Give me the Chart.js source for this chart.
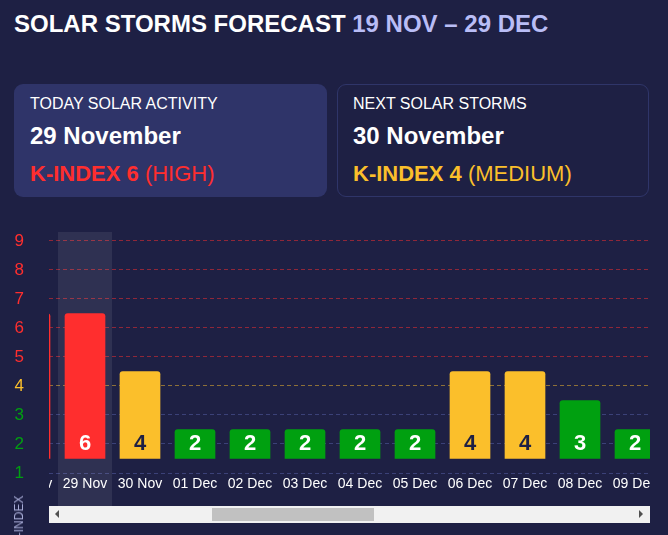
<!DOCTYPE html>
<html>
<head>
<meta charset="utf-8">
<script src="https://cdn.jsdelivr.net/npm/chart.js@4.4.0/dist/chart.umd.min.js"></script>
<style>
html,body{margin:0;padding:0;background:#1e2044;width:668px;height:535px;overflow:hidden;font-family:"Liberation Sans",Arial,sans-serif;}
#title{position:absolute;left:14px;top:12px;font-size:24px;line-height:24px;font-weight:bold;color:#fff;white-space:nowrap;}
#title span{color:#b9bdf6;}
.card{position:absolute;top:84px;height:113px;border-radius:9px;box-sizing:border-box;}
#c1{left:14px;width:313px;background:#2f3469;}
#c2{left:337px;width:312px;border:1px solid #2f3569;}
.t{position:absolute;white-space:nowrap;}
.l1{left:16px;top:12px;font-size:16px;line-height:16px;color:#fff;}
.l2{left:16px;top:40px;font-size:24px;line-height:24px;font-weight:bold;color:#fff;}
.l3{left:16px;top:79px;font-size:22px;line-height:22px;}
#c2 .t{left:15px;}
#c2 .l1{top:11px;} #c2 .l2{top:39px;} #c2 .l3{top:78px;}
.l3 b{font-weight:bold;}
.red{color:#ff2e2e;} .yel{color:#fbbf2b;}
#axisCanvas{position:absolute;left:0;top:232px;}
#viewport{position:absolute;left:49px;top:232px;width:601px;height:274px;overflow:hidden;}
#barCanvas{position:absolute;left:-47px;top:0;}
#ytitle{position:absolute;left:19px;top:520px;font-size:12px;line-height:12px;color:#a7abd6;white-space:nowrap;transform:translate(-50%,-50%) rotate(-90deg);}
#track{position:absolute;left:49px;top:506px;width:601px;height:17px;background:#f1f1f1;}
#thumb{position:absolute;left:212px;top:508px;width:162px;height:13px;background:#c1c1c1;}
#arrL{position:absolute;left:55px;top:510px;width:0;height:0;border-top:4px solid transparent;border-bottom:4px solid transparent;border-right:4px solid #505050;}
#arrR{position:absolute;left:639px;top:510px;width:0;height:0;border-top:4px solid transparent;border-bottom:4px solid transparent;border-left:4px solid #505050;}
</style>
</head>
<body>
<div id="title">SOLAR STORMS FORECAST <span>19 NOV – 29 DEC</span></div>
<div class="card" id="c1">
  <div class="t l1">TODAY SOLAR ACTIVITY</div>
  <div class="t l2">29 November</div>
  <div class="t l3 red"><b>K-INDEX 6</b> (HIGH)</div>
</div>
<div class="card" id="c2">
  <div class="t l1">NEXT SOLAR STORMS</div>
  <div class="t l2">30 November</div>
  <div class="t l3 yel"><b>K-INDEX 4</b> (MEDIUM)</div>
</div>
<canvas id="axisCanvas" width="650" height="274" style="width:650px;height:274px"></canvas>
<div id="viewport"><canvas id="barCanvas" width="661" height="274" style="width:661px;height:274px"></canvas></div>
<div id="ytitle">K-INDEX</div>
<div id="track"></div><div id="thumb"></div><div id="arrL"></div><div id="arrR"></div>
<script>
// ---- data ----
const days = ['28 Nov','29 Nov','30 Nov','01 Dec','02 Dec','03 Dec','04 Dec','05 Dec','06 Dec','07 Dec','08 Dec','09 Dec'];
const kIndex = [6, 6, 4, 2, 2, 2, 2, 2, 4, 4, 3, 2];
const kLevels = [1, 2, 3, 4, 5, 6, 7, 8, 9];
const todayLabel = '29 Nov';

// ---- styles ----
const RED = '#ff2e2e', YEL = '#fbbf2b', GRN = '#00a010';
function levelColor(k){ return k >= 5 ? RED : (k === 4 ? YEL : GRN); }
function gridColor(k){ return k >= 5 ? 'rgba(255,46,46,0.5)' : (k === 4 ? 'rgba(251,191,43,0.5)' : '#3b4178'); }
Chart.defaults.font.family = '"Liberation Sans", Arial, sans-serif';

const Y_MIN = 0.5, Y_MAX = 8.81;

// axis + grid chart
new Chart(document.getElementById('axisCanvas'), {
  type: 'bar',
  data: { labels: [''], datasets: [] },
  options: {
    responsive: false, animation: false, devicePixelRatio: 1,
    layout: { padding: 0 },
    plugins: { legend: { display: false }, tooltip: { enabled: false } },
    scales: {
      x: {
        display: true,
        ticks: { display: false },
        grid: { display: false },
        border: { display: false },
        afterFit: s => { s.height = 33; s.paddingLeft = 0; s.paddingRight = 0; }
      },
      y: {
        min: Y_MIN, max: Y_MAX,
        afterFit: s => { s.width = 49; s.paddingTop = 0; s.paddingBottom = 0; },
        afterBuildTicks: s => { s.ticks = kLevels.map(k => ({ value: k - 0.5 })); },
        ticks: {
          callback: (v, i) => String(kLevels[i]),
          color: c => c.tick ? levelColor(Math.round(c.tick.value + 0.5)) : '#fff',
          font: { size: 17 },
          padding: 25
        },
        grid: {
          color: c => c.tick ? gridColor(Math.round(c.tick.value + 0.5)) : 'transparent',
          drawTicks: false, lineWidth: 1
        },
        border: { display: false, dash: [4, 3] }
      }
    }
  }
});

const highlightPlugin = {
  id: 'todayHighlight',
  beforeDraw(chart) {
    const { ctx, chartArea } = chart;
    const x = chart.scales.x;
    const i = days.indexOf(todayLabel);
    const w = x.width / days.length;
    const cx = x.getPixelForValue(i);
    ctx.save();
    ctx.fillStyle = 'rgba(255,255,255,0.08)';
    ctx.fillRect(Math.round(cx - w / 2), chartArea.top, Math.round(w) - 1, chart.height - chartArea.top);
    ctx.restore();
  }
};

const valueLabelPlugin = {
  id: 'valueLabels',
  afterDatasetsDraw(chart) {
    const { ctx } = chart;
    const meta = chart.getDatasetMeta(0);
    ctx.save();
    ctx.font = 'bold 22px "Liberation Sans", Arial, sans-serif';
    ctx.textAlign = 'center';
    ctx.textBaseline = 'middle';
    meta.data.forEach((bar, i) => {
      ctx.fillStyle = kIndex[i] === 4 ? '#1e2044' : '#ffffff';
      ctx.fillText(String(kIndex[i]), bar.x, bar.base - 15);
    });
    ctx.restore();
  }
};

new Chart(document.getElementById('barCanvas'), {
  type: 'bar',
  data: {
    labels: days,
    datasets: [{
      data: kIndex,
      base: 1,
      backgroundColor: kIndex.map(levelColor),
      barThickness: 40,
      borderRadius: 3,
      borderSkipped: 'start'
    }]
  },
  options: {
    responsive: false, animation: false, devicePixelRatio: 1,
    layout: { padding: { left: 0.5, right: 0.5, top: 0, bottom: 0 } },
    plugins: { legend: { display: false }, tooltip: { enabled: false } },
    scales: {
      x: {
        ticks: { color: '#ffffff', font: { size: 14 }, padding: 3, maxRotation: 0, autoSkip: false },
        grid: { display: false, drawTicks: false },
        border: { display: false },
        afterFit: s => { s.height = 33; s.paddingLeft = 0; s.paddingRight = 0; }
      },
      y: { display: false, min: Y_MIN, max: Y_MAX }
    }
  },
  plugins: [highlightPlugin, valueLabelPlugin]
});
</script>
</body>
</html>
